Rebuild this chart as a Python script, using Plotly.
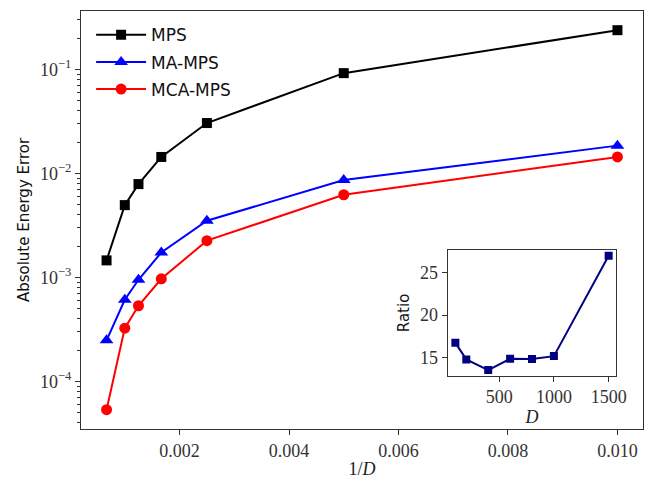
import plotly.graph_objects as go

# Main data
inv_D = [0.000667, 0.001, 0.00125, 0.001667, 0.0025, 0.005, 0.01]
mps = [0.00146, 0.00496, 0.0079, 0.0144, 0.0305, 0.092, 0.238]
ma_mps = [0.000249, 0.000611, 0.000951, 0.00174, 0.00351, 0.00863, 0.0185]
mca_mps = [5.36e-5, 0.000326, 0.000535, 0.000972, 0.00226, 0.00624, 0.0144]

# Inset data
D_vals = [100, 200, 400, 600, 800, 1000, 1500]
ratio = [16.72, 14.76, 13.5, 14.83, 14.8, 15.15, 27.0]

y_tickvals = [1e-4, 1e-3, 1e-2, 1e-1]
y_ticktext = ["10<sup>−4</sup>", "10<sup>−3</sup>", "10<sup>−2</sup>", "10<sup>−1</sup>"]
x_tickvals = [0.002, 0.004, 0.006, 0.008, 0.010]
x_ticktext = ["0.002", "0.004", "0.006", "0.008", "0.010"]

serif = "Liberation Serif"
sans = "DejaVu Sans"

fig = go.Figure()
fig.add_trace(go.Scatter(x=inv_D, y=mps, mode="lines+markers", name="MPS",
                         line=dict(color="black", width=2),
                         marker=dict(symbol="square", size=10, color="black"),
                         legendgroup="a"))
fig.add_trace(go.Scatter(x=inv_D, y=ma_mps, mode="lines+markers", name="MA-MPS",
                         line=dict(color="blue", width=2),
                         marker=dict(symbol="triangle-up", size=12, color="blue"),
                         legendgroup="b"))
fig.add_trace(go.Scatter(x=inv_D, y=mca_mps, mode="lines+markers", name="MCA-MPS",
                         line=dict(color="red", width=2),
                         marker=dict(symbol="circle", size=11, color="red"),
                         legendgroup="c"))
fig.add_trace(go.Scatter(x=D_vals, y=ratio, mode="lines+markers", showlegend=False,
                         line=dict(color="#000080", width=2),
                         marker=dict(symbol="square", size=8, color="#000080"),
                         xaxis="x2", yaxis="y2"))

axis_common = dict(ticks="outside", ticklen=5, tickcolor="#333", showgrid=False, zeroline=False,
                   showline=True, linecolor="#333", linewidth=1.2, mirror=True, automargin=False,
                   tickfont=dict(family=serif, size=18, color="#333"))

fig.update_layout(
    width=650, height=481,
    margin=dict(l=81, r=7, t=11, b=52),
    paper_bgcolor="white", plot_bgcolor="white",
    font=dict(family=serif, size=18, color="#222"),
    xaxis=dict(range=[0.0002, 0.010467], tickvals=x_tickvals, ticktext=x_ticktext,
               title=dict(text="1/<i>D</i>", font=dict(family=serif, size=18), standoff=2),
               **axis_common),
    yaxis=dict(type="log", range=[-4.456, -0.439], tickvals=y_tickvals, ticktext=y_ticktext,
               minor=dict(ticks="outside", ticklen=3, tickcolor="#333", showgrid=False,
                          tickvals=[m * 10 ** e for e in range(-5, 0) for m in range(2, 10)]),
               title=dict(text="Absolute Energy Error", font=dict(family=sans, size=15, color="#111"), standoff=6),
               **axis_common),
    xaxis2=dict(domain=[0.6525, 0.9525], anchor="y2", range=[30, 1570],
                tickvals=[500, 1000, 1500],
                title=dict(text="<i>D</i>", font=dict(family=serif, size=18), standoff=2),
                **axis_common),
    yaxis2=dict(domain=[0.1274, 0.428], anchor="x2", range=[12.83, 27.68],
                tickvals=[15, 20, 25],
                title=dict(text="Ratio", font=dict(family=sans, size=15, color="#111"), standoff=6),
                **axis_common),
    legend=dict(x=0.018, y=0.985, xanchor="left", yanchor="top", bgcolor="rgba(255,255,255,0)",
                font=dict(family=sans, size=17, color="#111"), tracegroupgap=2, itemwidth=50),
)

fig.write_html("out.html", config={"displayModeBar": False},
               post_script="document.body.style.margin='0';")
